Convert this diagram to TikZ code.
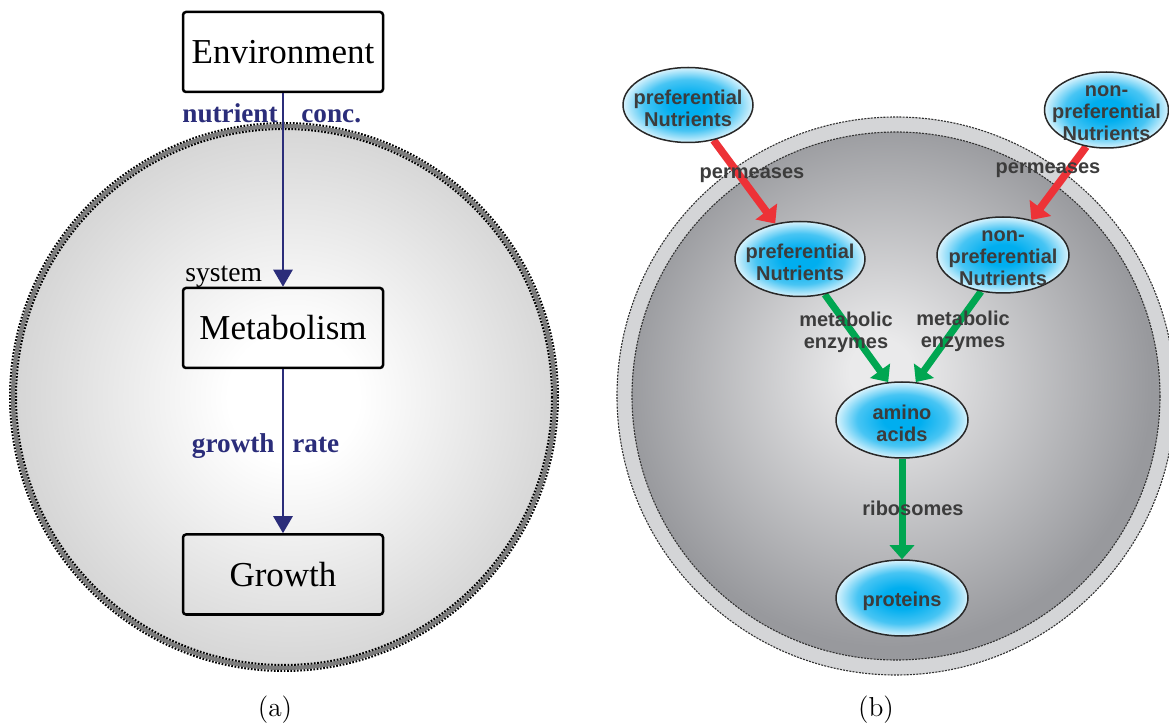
\documentclass[tikz,border=0pt]{standalone}
\usepackage{fontspec}
\usetikzlibrary{arrows.meta,shapes.geometric}
\newfontfamily\timesface{Liberation Serif}
\newfontfamily\arialface{Liberation Sans}

\definecolor{navyflow}{RGB}{43,45,122}
\definecolor{uptakered}{RGB}{237,50,55}
\definecolor{convgreen}{RGB}{0,166,81}
\definecolor{labelgray}{RGB}{60,60,60}
\definecolor{ringgray}{RGB}{212,213,215}
\definecolor{cellrim}{RGB}{152,153,157}
\definecolor{cellhi}{RGB}{234,234,235}
\definecolor{rimgray}{RGB}{125,125,125}
\definecolor{poolcyan}{RGB}{0,174,239}
\definecolor{poolline}{RGB}{40,40,40}
\definecolor{dashline}{RGB}{50,50,50}

% radial shadings: the shaded path's border sits at 25bp
\pgfdeclareradialshading{outerglow}{\pgfpoint{1bp}{0bp}}{color(0bp)=(white); color(6bp)=(white); color(25bp)=(black!16); color(50bp)=(black!16)}
\pgfdeclareradialshading{cellglow}{\pgfpoint{-1.5bp}{2.5bp}}{color(0bp)=(cellhi); color(3bp)=(cellhi); color(25bp)=(cellrim); color(50bp)=(cellrim)}
\pgfdeclareradialshading{poolglow}{\pgfpointorigin}{color(0bp)=(poolcyan); color(7bp)=(poolcyan); color(17bp)=(poolcyan!72!white); color(25bp)=(poolcyan!15!white); color(50bp)=(poolcyan!15!white)}

\pgfdeclarelayer{back}
\pgfdeclarelayer{mid}
\pgfsetlayers{back,mid,main}

\tikzset{
  stagebox/.style={draw=black, line width=1.25pt, rounded corners=1.5pt,
    minimum width=100pt, minimum height=40pt, inner sep=0pt,
    font=\timesface\fontsize{17.5}{20}\selectfont},
  flow/.style={draw=navyflow, line width=1.3pt, -{Triangle[width=9.5pt,length=8.5pt]}},
  flowlabel/.style={inner sep=0pt, text=navyflow, font=\timesface\bfseries\fontsize{13.6}{16}\selectfont},
  dotrim/.style={draw=black, line width=1pt, dash pattern=on 0.85pt off 0.8pt},
  dashrim/.style={draw=dashline, line width=0.55pt, dash pattern=on 1pt off 0.6pt},
  pool/.style={ellipse, draw=poolline, line width=0.75pt, shading=poolglow,
    inner sep=0pt, minimum width=65pt, minimum height=37.5pt},
  pooltext/.style={inner sep=0pt, align=center, text=labelgray,
    font=\arialface\bfseries\fontsize{10}{11}\selectfont},
  intext/.style={pooltext, yshift=-1.5pt},
  uptake/.style={draw=uptakered, line width=3.8pt, -{Triangle[width=13pt,length=7.5pt]}},
  convert/.style={draw=convgreen, line width=3.5pt, -{Triangle[width=12pt,length=7pt]}},
}

\begin{document}
\begin{tikzpicture}[x=0.5pt,y=-0.5pt]
\useasboundingbox (0,0) rectangle (1169,727);

% ---- (a) the system as a black box ----
\begin{pgfonlayer}{back}
  \shade[shading=outerglow] (284,397) circle (271);
  \draw[line width=2pt, rimgray] (284,397) circle (271);
  \draw[dotrim] (284,397) circle (274);
  \draw[dotrim] (284,397) circle (268);
\end{pgfonlayer}

\node[stagebox, fill=white] (env) at (283,52) {Environment};
\node[stagebox] (met) at (283,328) {Metabolism};
\node[stagebox] (gro) at (283,574.5) {Growth};

\draw[flow] (env) -- (met);
\draw[flow] (met) -- (gro);

\node[flowlabel, anchor=base east] (nutr) at (278,123) {nutrient};
\node[flowlabel, anchor=base west] (conc) at (301,123) {conc.};
\node[flowlabel, anchor=base east] (grw) at (275,453) {growth};
\node[flowlabel, anchor=base west] (rate) at (292,453) {rate};
\node[anchor=base west, inner sep=0pt, font=\timesface\fontsize{13.8}{16}\selectfont] (sys) at (185,282) {system};

% ---- (b) nutrient flow through the cell ----
\begin{pgfonlayer}{back}
  \fill[ringgray] (896,396) circle (279);
  \draw[dashrim] (896,396) circle (279);
  \shade[shading=cellglow] (896,396) circle (264);
  \draw[dashrim] (896,396) circle (264);
\end{pgfonlayer}

\node[pool] (pnout) at (688,105) {};
\node[pool, minimum width=62pt, minimum height=38pt] (npnout) at (1106.5,110) {};
\node[pool] (pnin) at (800,259) {};
\node[pool, minimum width=66pt, minimum height=38pt] (npnin) at (1003,255) {};
\node[pool, minimum width=66pt, minimum height=38pt] (aa) at (902,420) {};
\node[pool, minimum width=66pt, minimum height=38pt] (prot) at (902,598) {};

\begin{pgfonlayer}{mid}
  \draw[uptake] (pnout.-54) -- (pnin.125);
  \draw[uptake] (npnout.241) -- (npnin.51);
  \draw[convert] (pnin.-55) -- (aa.110);
  \draw[convert] (npnin.239) -- (aa.70);
  \draw[convert] (aa) -- (prot);
\end{pgfonlayer}

\node[intext] at (pnout) {preferential\\Nutrients};
\node[intext] at (npnout) {non-\\preferential\\Nutrients};
\node[intext] at (pnin) {preferential\\Nutrients};
\node[intext] at (npnin) {non-\\preferential\\Nutrients};
\node[intext] at (aa) {amino\\acids};
\node[intext] at (prot) {proteins};

\node[pooltext] (perm1) at (752,175) {permeases};
\node[pooltext] (perm2) at (1048,170) {permeases};
\node[pooltext] (enz1) at (846,332) {metabolic\\enzymes};
\node[pooltext] (enz2) at (963,331) {metabolic\\enzymes};
\node[pooltext] (ribo) at (913,508) {ribosomes};

% ---- panel captions ----
\node[anchor=base, inner sep=0pt, font=\fontsize{13.7}{16}\selectfont] (capa) at (275,716) {(a)};
\node[anchor=base, inner sep=0pt, font=\fontsize{13.7}{16}\selectfont] (capb) at (876,716) {(b)};
\end{tikzpicture}
\end{document}
